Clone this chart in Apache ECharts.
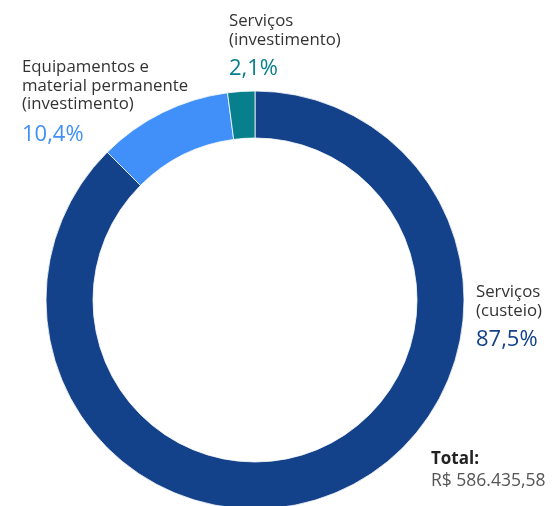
<!DOCTYPE html>
<html>
<head>
<meta charset="utf-8">
<script src="https://cdn.jsdelivr.net/npm/echarts@6/dist/echarts.min.js"></script>
<style>
html,body{margin:0;padding:0;background:#fff;}
#chart{width:552px;height:506px;}
</style>
</head>
<body>
<div id="chart"></div>
<script>
// ---- data ----
const categories = ['Serviços (custeio)', 'Equipamentos e material permanente (investimento)', 'Serviços (investimento)'];
const labelLines = [['Serviços', '(custeio)'], ['Equipamentos e', 'material permanente', '(investimento)'], ['Serviços', '(investimento)']];
const percentValues = [87.5, 10.4, 2.1];
const totalTitle = 'Total:';
const totalValue = 'R$ 586.435,58';

// ---- style ----
const colors = ['#13418a', '#4190fa', '#077f8c'];
const labelPos = [
  {x: 476, y: 283, py: 340},
  {x: 22, y: 58, py: 135},
  {x: 229, y: 12, py: 69}
];
const FONT = '"Open Sans", Lato, sans-serif';

function fmtPct(v) { return v.toFixed(1).replace('.', ',') + '%'; }

const chart = echarts.init(document.getElementById('chart'), null, {renderer: 'canvas'});

const graphics = [];
categories.forEach((c, i) => {
  graphics.push({
    type: 'text', x: labelPos[i].x, y: labelPos[i].y,
    style: {text: labelLines[i].join('\n'), fill: '#333333', fontFamily: FONT, fontSize: 16.8, lineHeight: 18.6, verticalAlign: 'top', align: 'left'}
  });
  graphics.push({
    type: 'text', x: labelPos[i].x, y: labelPos[i].py,
    style: {text: fmtPct(percentValues[i]), fill: colors[i], fontFamily: FONT, fontSize: 22, verticalAlign: 'middle', align: 'left'}
  });
});
graphics.push({
  type: 'text', x: 431, y: 459,
  style: {text: totalTitle, fill: '#222222', fontFamily: FONT, fontWeight: 'bold', fontSize: 17, verticalAlign: 'middle', align: 'left'}
});
graphics.push({
  type: 'text', x: 431, y: 481,
  style: {text: totalValue, fill: '#555555', fontFamily: FONT, fontSize: 17.5, verticalAlign: 'middle', align: 'left'}
});

chart.setOption({
  animation: false,
  color: colors,
  series: [{
    type: 'pie',
    center: [255, 300],
    radius: [162, 209],
    startAngle: 90,
    clockwise: true,
    label: {show: false},
    labelLine: {show: false},
    emphasis: {disabled: true},
    itemStyle: {borderColor: '#ffffff', borderWidth: 0.8},
    data: categories.map((c, i) => ({name: c, value: percentValues[i]}))
  }],
  graphic: graphics
});
</script>
</body>
</html>
